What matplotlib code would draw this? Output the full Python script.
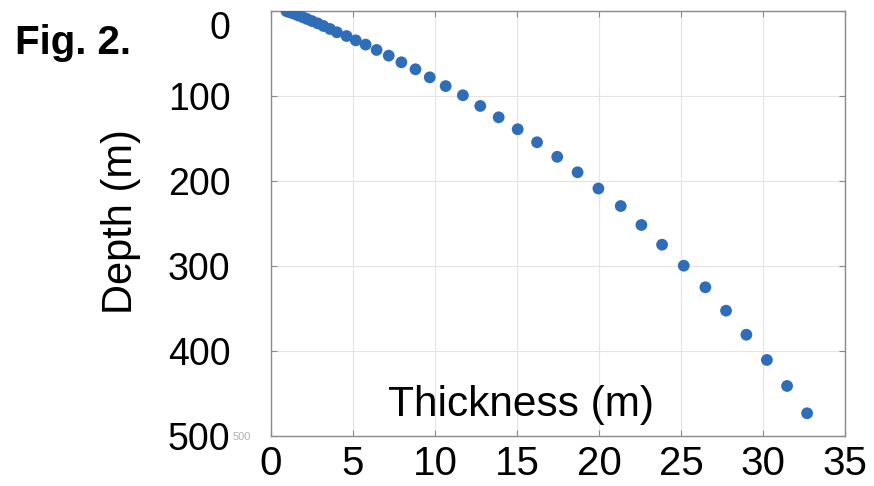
import matplotlib

matplotlib.use("Agg")
import matplotlib.pyplot as plt
from matplotlib.transforms import ScaledTranslation

# layer thickness (m) against depth to the layer (m)
thickness = [
    0.95, 1.1, 1.3, 1.5, 1.7, 1.95, 2.2, 2.5, 2.85, 3.2, 3.6, 4.02, 4.61,
    5.17, 5.77, 6.44, 7.18, 7.95, 8.81, 9.68, 10.65, 11.70, 12.76, 13.88,
    15.04, 16.22, 17.45, 18.69, 19.96, 21.32, 22.58, 23.84, 25.16, 26.48,
    27.74, 28.98, 30.23, 31.46, 32.68,
]
depth = [
    0.6, 1.6, 2.8, 4.2, 5.8, 7.7, 9.8, 12.2, 14.9, 18.0, 21.5, 25.4, 29.8,
    34.9, 39.9, 46.2, 52.9, 60.7, 68.9, 78.4, 88.7, 99.5, 112.1, 125.4,
    139.5, 154.8, 171.9, 190.1, 209.2, 229.8, 252.1, 275.3, 300.0, 325.4,
    352.9, 381.2, 410.9, 441.5, 473.6,
]
x_ticks = [0, 5, 10, 15, 20, 25, 30, 35]
y_ticks = [0, 100, 200, 300, 400, 500]

plt.rcParams["font.family"] = ["Liberation Sans", "DejaVu Sans"]

fig = plt.figure(figsize=(8.74, 4.86), dpi=100)
ax = fig.add_axes([0.310, 0.1035, 0.657, 0.8745])

ax.scatter(thickness, depth, s=72, color="#2f6db8", edgecolors="none", zorder=3)

ax.set_xlim(0, 35)
ax.set_ylim(500, 0)
ax.set_xticks(x_ticks)
ax.set_yticks(y_ticks)
ax.grid(True, color="#e4e4e4", linewidth=0.8)
ax.set_axisbelow(True)

for spine in ax.spines.values():
    spine.set_color("#8a8a8a")
    spine.set_linewidth(1.0)

ax.tick_params(axis="both", direction="in", length=4, width=0.8, color="#8a8a8a",
               top=True, right=True)
ax.tick_params(axis="x", labelsize=29, pad=7)
ax.tick_params(axis="y", labelsize=27, pad=29)

# the top depth label sits a little below its tick
top_label = ax.get_yticklabels()[0]
top_label.set_transform(top_label.get_transform()
                        + ScaledTranslation(0, -10 / 72, fig.dpi_scale_trans))

ax.text(0.436, 0.072, "Thickness (m)", transform=ax.transAxes, fontsize=30.5,
        ha="center", va="center")
fig.text(0.138, 0.545, "Depth (m)", rotation=90, fontsize=30, ha="center", va="center")
fig.text(0.017, 0.912, "Fig. 2.", fontsize=29, fontweight="bold", ha="left", va="center")
fig.text(0.266, 0.100, "500", fontsize=8, color="#b0b0b0", ha="left", va="center")

fig.savefig("out.png", dpi=100)
